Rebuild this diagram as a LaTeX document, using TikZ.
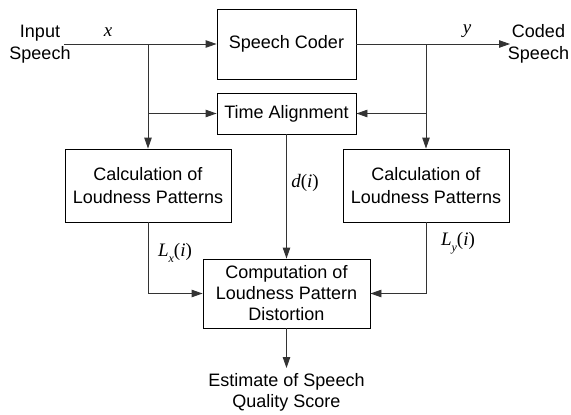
\documentclass[tikz,border=0pt]{standalone}
\usepackage{fontspec}
\setmainfont{Liberation Sans}
\newfontfamily\tms{Liberation Serif}
\usetikzlibrary{arrows.meta}
\newcommand{\mv}[1]{{\tms\itshape #1}}
\newcommand{\sbs}[1]{\raisebox{-0.3em}{\fontsize{12}{12}\selectfont\tms\itshape #1}}
\newcommand{\parg}{{\tms(\itshape i\/\upshape)}}
\begin{document}
\begin{tikzpicture}[x=1pt,y=-1pt,
  box/.style={draw=black,line width=0.9pt,inner sep=0pt,align=center,
    font=\fontsize{18}{22.5}\selectfont},
  lbl/.style={inner sep=0pt,align=center,font=\fontsize{18}{21.5}\selectfont},
  mlab/.style={inner sep=0pt,font=\fontsize{19}{19}\selectfont},
  con/.style={draw=black!80,line width=0.9pt},
  arr/.style={con,-{Triangle[length=11pt,width=7.5pt]}}]
\useasboundingbox (0,0) rectangle (571,415);
% boxes
\node[box,minimum width=139pt,minimum height=70pt] (coder) at (286.5,44) {Speech Coder};
\node[box,minimum width=139pt,minimum height=41pt] (ta) at (286.5,113.5) {Time Alignment};
\node[box,minimum width=166pt,minimum height=73pt] (calcL) at (148,185.5) {Calculation of\\Loudness Patterns};
\node[box,minimum width=166pt,minimum height=73pt] (calcR) at (426,185.5) {Calculation of\\Loudness Patterns};
\node[box,minimum width=167pt,minimum height=69pt,font=\fontsize{18}{21}\selectfont] (comp) at (286.5,293.5) {\raisebox{-2pt}{\parbox{167pt}{\centering Computation of\\Loudness Pattern\\Distortion}}};
% texts
\node[lbl] (inp) at (40,44) {Input\\Speech};
\node[lbl] (outp) at (538.5,44) {Coded\\Speech};
\node[lbl,anchor=north,inner sep=0pt] (est) at (286.5,373) {Estimate of Speech\\Quality Score};
% coordinates
\coordinate (in) at (64,44);
\coordinate (bx) at (148,44);
\coordinate (by) at (426,44);
\coordinate (out) at (510,44);
% connectors
\draw[arr] (in) -- (coder.west);
\draw[arr] (bx) -- (calcL.north);
\draw[arr] (bx |- ta.west) -- (ta.west);
\draw[arr] (coder.east) -- (out);
\draw[arr] (by) -- (calcR.north);
\draw[arr] (by |- ta.east) -- (ta.east);
\draw[arr] (ta.south) -- (comp.north);
\draw[arr] (calcL.south) |- (comp.west);
\draw[arr] (calcR.south) |- (comp.east);
\draw[arr] (comp.south) -- ([yshift=5pt]est.north);
% labels
\node[mlab] (lx) at (108,32) {\mv{x}};
\node[mlab] (ly) at (467,31) {\mv{y}};
\node[mlab] (ld) at (305,183) {\mv{d}\parg};
\node[mlab] (llx) at (175,253) {\mv{L}\sbs{x}\parg};
\node[mlab] (lly) at (458,243) {\mv{L}\sbs{y}\parg};
\end{tikzpicture}
\end{document}
